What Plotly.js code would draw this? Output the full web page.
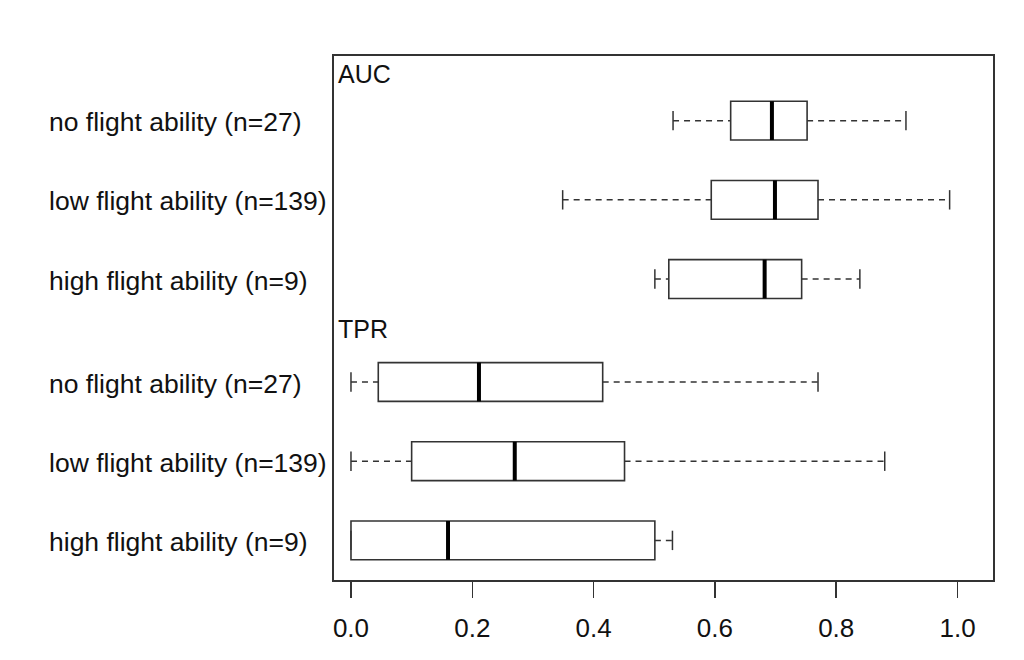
<!DOCTYPE html>
<html>
<head>
<meta charset="utf-8">
<script src="https://cdn.plot.ly/plotly-3.0.1.min.js"></script>
<style>
    html, body { margin: 0; padding: 0; background: #fff; }
    #chart { width: 1024px; height: 660px; }
</style>
</head>
<body>
<div id="chart"></div>
<script>
// values
const groups = ['AUC', 'TPR'];
const categories = ['no flight ability (n=27)', 'low flight ability (n=139)', 'high flight ability (n=9)'];

const aucLow = [0.531, 0.349, 0.501];
const aucQ1 = [0.626, 0.594, 0.524];
const aucMedian = [0.694, 0.699, 0.682];
const aucQ3 = [0.752, 0.770, 0.743];
const aucHigh = [0.915, 0.987, 0.839];

const tprLow = [0.0, 0.0, 0.0];
const tprQ1 = [0.045, 0.100, 0.0];
const tprMedian = [0.211, 0.270, 0.160];
const tprQ3 = [0.415, 0.451, 0.501];
const tprHigh = [0.770, 0.880, 0.530];

const xTicks = [0, 0.2, 0.4, 0.6, 0.8, 1.0];

const FONT = '"Liberation Sans", Arial, Helvetica, sans-serif';
const INK = '#333';
const BOX_W = 0.49;
const CAP = BOX_W * 0.25;
const GROUP_STEP = 3.3;

const stats = [
    { lo: aucLow, q1: aucQ1, med: aucMedian, q3: aucQ3, hi: aucHigh },
    { lo: tprLow, q1: tprQ1, med: tprMedian, q3: tprQ3, hi: tprHigh },
];

const traces = [];
const whisk = { x: [], y: [] };
const caps = { x: [], y: [] };
const meds = { x: [], y: [] };
const annotations = [];

stats.forEach((s, g) => {
    categories.forEach((cat, i) => {
        const pos = g * GROUP_STEP + i + 1;
        traces.push({
            type: 'box',
            orientation: 'h',
            y: [pos],
            q1: [s.q1[i]],
            median: [s.med[i]],
            q3: [s.q3[i]],
            lowerfence: [s.q1[i]],
            upperfence: [s.q3[i]],
            width: BOX_W,
            whiskerwidth: 0,
            fillcolor: '#fff',
            line: { color: INK, width: 1.6 },
            hoverinfo: 'skip',
            showlegend: false,
        });
        whisk.x.push(s.lo[i], s.q1[i], null, s.q3[i], s.hi[i], null);
        whisk.y.push(pos, pos, null, pos, pos, null);
        caps.x.push(s.lo[i], s.lo[i], null, s.hi[i], s.hi[i], null);
        caps.y.push(pos - CAP, pos + CAP, null, pos - CAP, pos + CAP, null);
        meds.x.push(s.med[i], s.med[i], null);
        meds.y.push(pos - BOX_W / 2, pos + BOX_W / 2, null);

        annotations.push({
            text: cat,
            xref: 'paper', x: -0.4355, xanchor: 'left',
            yref: 'y', y: pos + 0.02, yanchor: 'middle',
            showarrow: false,
            font: { family: FONT, size: 26.5, color: '#111' },
        });
    });
});

traces.push({
    type: 'scatter', mode: 'lines', x: whisk.x, y: whisk.y,
    line: { color: INK, width: 1.5, dash: '6px,5px' },
    hoverinfo: 'skip', showlegend: false,
});
traces.push({
    type: 'scatter', mode: 'lines', x: caps.x, y: caps.y,
    line: { color: INK, width: 1.5 },
    hoverinfo: 'skip', showlegend: false,
});
traces.push({
    type: 'scatter', mode: 'lines', x: meds.x, y: meds.y,
    line: { color: '#000', width: 4 },
    hoverinfo: 'skip', showlegend: false,
});

// group headings inside the frame
const headingY = [0.9647, 0.479];
groups.forEach((name, g) => {
    annotations.push({
        text: name,
        xref: 'paper', x: 0, xanchor: 'left', xshift: 2,
        yref: 'paper', y: headingY[g], yanchor: 'middle',
        showarrow: false,
        font: { family: FONT, size: 25, color: '#111' },
    });
});

const layout = {
    width: 1024,
    height: 660,
    margin: { l: 334, r: 31, t: 56, b: 80 },
    paper_bgcolor: '#fff',
    plot_bgcolor: '#fff',
    font: { family: FONT, size: 26, color: '#111' },
    xaxis: {
        range: [-0.028, 1.0585],
        tickvals: xTicks,
        ticktext: xTicks.map(v => v.toFixed(1)),
        ticks: 'outside',
        ticklen: 16,
        tickwidth: 1.5,
        tickcolor: INK,
        ticklabelstandoff: 8,
        showgrid: false,
        zeroline: false,
        showline: true,
        mirror: true,
        linecolor: INK,
        linewidth: 2,
        tickfont: { family: FONT, size: 26, color: '#111' },
    },
    yaxis: {
        range: [6.8, 0.184],
        showticklabels: false,
        ticks: '',
        showgrid: false,
        zeroline: false,
        showline: true,
        mirror: true,
        linecolor: INK,
        linewidth: 2,
    },
    annotations,
    showlegend: false,
};

Plotly.newPlot('chart', traces, layout, { displayModeBar: false, staticPlot: true });
</script>
</body>
</html>
